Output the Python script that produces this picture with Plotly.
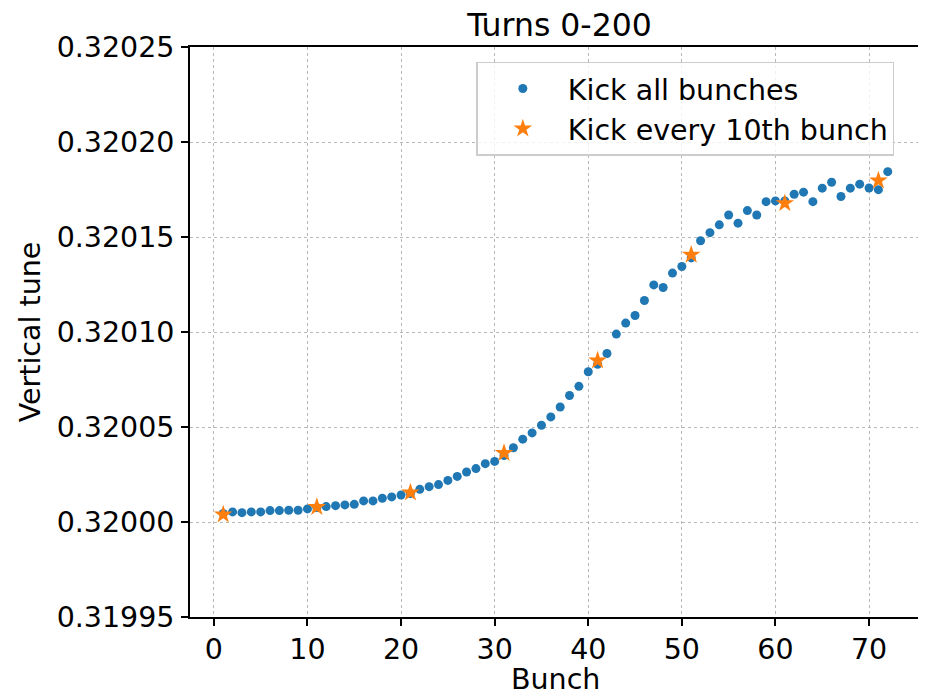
import plotly.graph_objects as go

bunches = list(range(1, 73))
tune_all_e5 = [
    0.45, 0.53, 0.49, 0.53, 0.53, 0.60, 0.60, 0.62, 0.62, 0.69,
    0.76, 0.81, 0.86, 0.90, 0.93, 1.11, 1.11, 1.25, 1.32, 1.42,
    1.50, 1.72, 1.86, 1.97, 2.19, 2.40, 2.63, 2.81, 3.07, 3.19,
    3.50, 3.91, 4.36, 4.69, 5.09, 5.53, 6.05, 6.66, 7.14, 7.91,
    8.30, 8.87, 9.89, 10.47, 10.87, 11.66, 12.48, 12.34, 13.10, 13.45,
    13.90, 14.80, 15.23, 15.64, 16.16, 15.73, 16.39, 16.16, 16.86, 16.90,
    16.90, 17.25, 17.36, 16.86, 17.57, 17.88, 17.13, 17.57, 17.78, 17.58,
    17.49, 18.44,
]
kicked_bunches = [1, 11, 21, 31, 41, 51, 61, 71]
tune_kicked_e5 = [0.39, 0.79, 1.55, 3.63, 8.50, 14.06, 16.78, 17.97]

base = 0.32
tune_all = [base + v * 1e-5 for v in tune_all_e5]
tune_kicked = [base + v * 1e-5 for v in tune_kicked_e5]

y_ticks = [0.31995, 0.32000, 0.32005, 0.32010, 0.32015, 0.32020, 0.32025]
x_ticks = [0, 10, 20, 30, 40, 50, 60, 70]

FONT = "DejaVu Sans"

fig = go.Figure()
fig.add_trace(go.Scatter(
    x=bunches, y=tune_all, mode="markers", name="Kick all bunches",
    marker=dict(color="#1f77b4", size=9, line=dict(width=0)),
))
fig.add_trace(go.Scatter(
    x=kicked_bunches, y=tune_kicked, mode="markers", name="Kick every 10th bunch",
    marker=dict(color="#ff7f0e", size=14, symbol="star", line=dict(width=0)),
))

axis_common = dict(
    showline=True, linecolor="black", linewidth=1.6, mirror=True,
    ticks="outside", ticklen=7, tickwidth=1.6, tickcolor="black",
    showgrid=True, gridcolor="#b8b8b8", gridwidth=1, griddash="dot",
    zeroline=False,
    tickfont=dict(family=FONT, size=28.5, color="black"),
)

fig.update_layout(
    width=926, height=696,
    margin=dict(l=182, r=11, t=39, b=87),
    paper_bgcolor="white", plot_bgcolor="white",
    font=dict(family=FONT, color="black"),
    title=dict(text="Turns 0-200", x=551.5 / 926, xanchor="center",
               y=1 - 17 / 696, yanchor="middle", yref="container",
               font=dict(family=FONT, size=31.5, color="black")),
    showlegend=True,
    legend=dict(
        x=0.3917, xanchor="left", y=0.9737, yanchor="top",
        bgcolor="rgba(255,255,255,0.8)", bordercolor="#cccccc", borderwidth=1.5,
        font=dict(family=FONT, size=28.5, color="black"),
        itemwidth=80, tracegroupgap=0,
    ),
    xaxis=dict(
        range=[-2.55, 75.55], tickvals=x_ticks, ticklabelstandoff=-1,
        **axis_common,
    ),
    yaxis=dict(
        range=[0.31995, 0.32025], tickvals=y_ticks, tickformat=".5f", ticklabelstandoff=1,
        title=dict(text="Vertical tune", font=dict(family=FONT, size=28.5, color="black"), standoff=8),
        **axis_common,
    ),
    annotations=[dict(
        text="Bunch", xref="paper", yref="paper", x=0.5, y=-0.1100,
        xanchor="center", yanchor="middle", showarrow=False,
        font=dict(family=FONT, size=28.5, color="black"),
    )],
)

fig.write_html("out.html")
